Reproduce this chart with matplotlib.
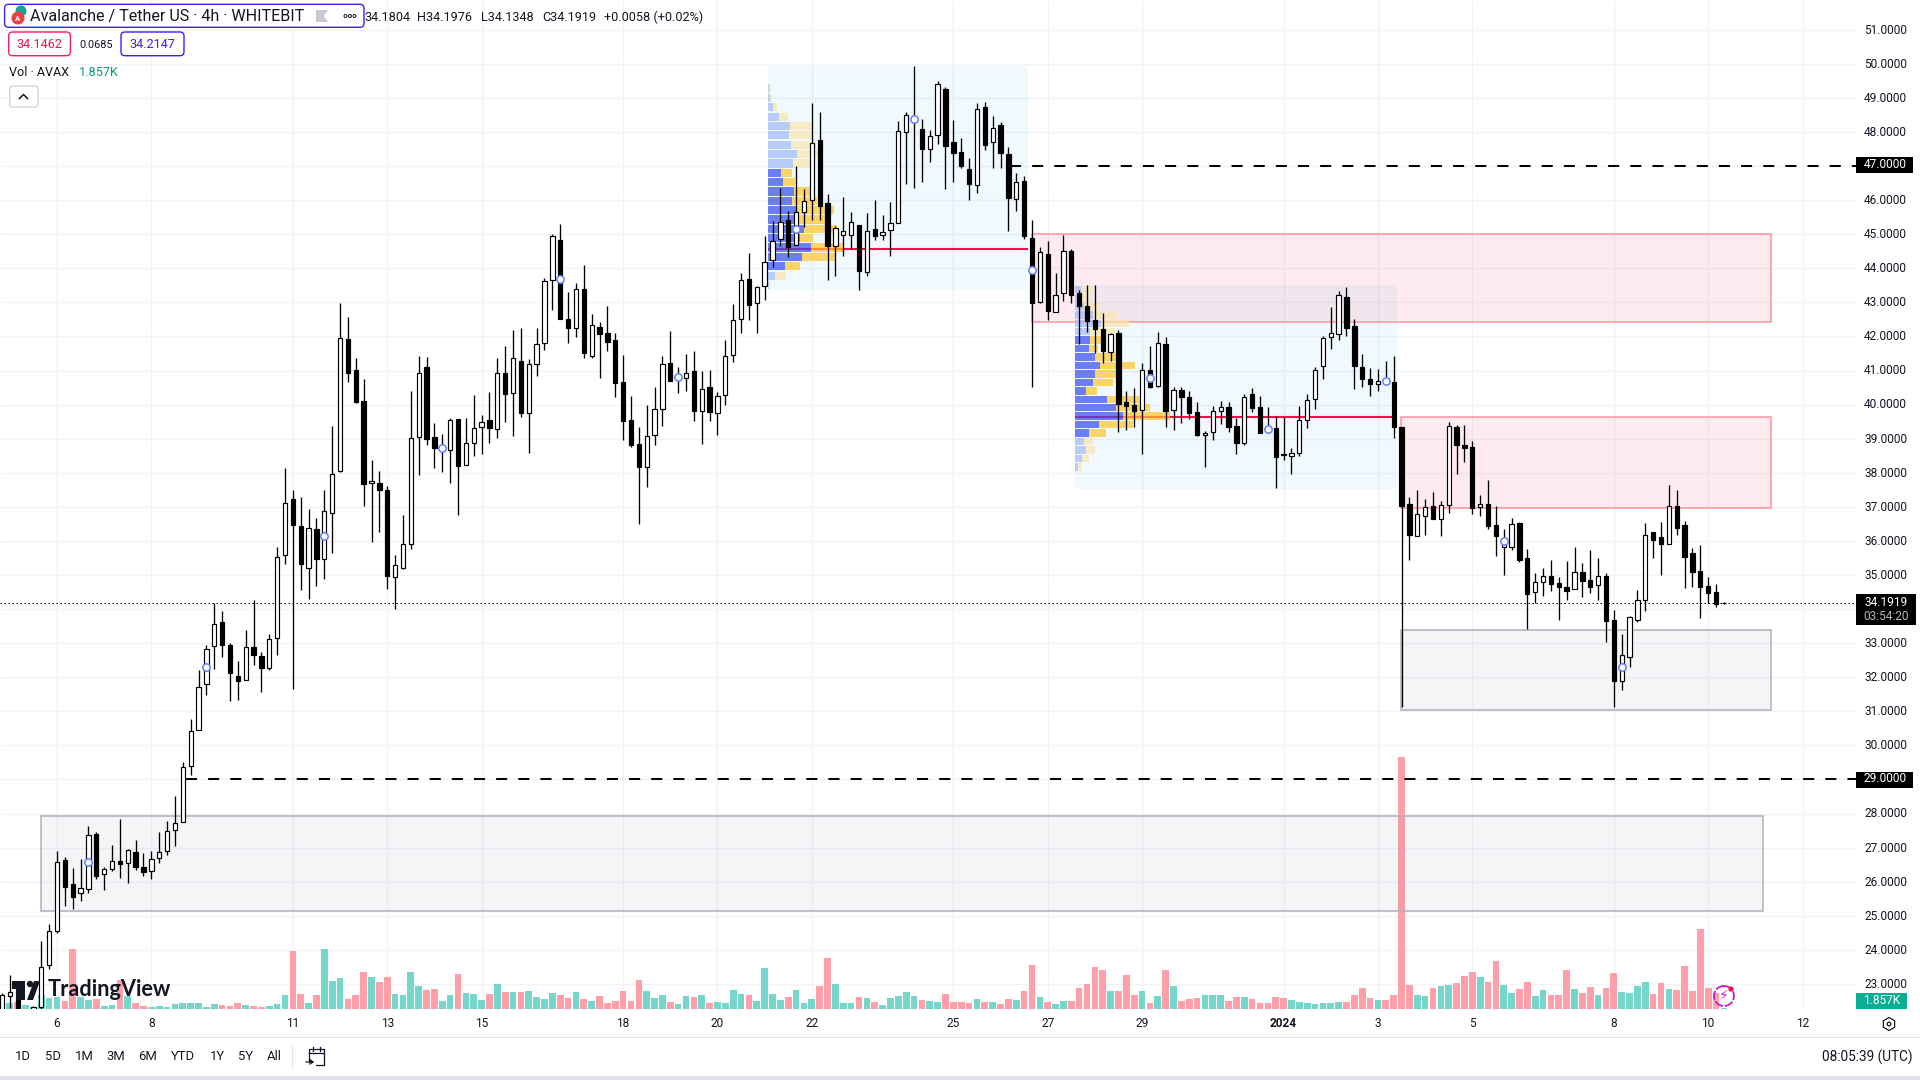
import matplotlib
matplotlib.use("Agg")
import matplotlib.pyplot as plt
import matplotlib.patches as mpatches
from matplotlib.transforms import ScaledTranslation
import numpy as np

plt.rcParams['font.family'] = ['Roboto', 'DejaVu Sans']

# candles, 4h bars, index 0 = 6 Dec 00:00, first bar is index -7
opens = [22.23,22.65,22.77,21.9,22.1,22.33,23.57,24.56,26.63,25.92,
25.66,25.80,27.40,26.24,26.36,26.62,26.54,26.86,26.42,26.30,
26.71,26.89,27.53,27.74,29.40,30.44,31.79,32.91,33.61,32.96,
32.05,31.91,32.88,32.61,32.26,33.14,35.58,37.22,36.43,35.20,
36.34,35.46,36.81,38.06,41.92,41.01,40.10,37.69,37.69,37.49,
34.93,35.20,35.90,39.04,41.10,39.04,38.65,38.66,39.57,38.22,
38.86,39.33,39.54,39.28,40.92,40.33,41.27,39.75,41.18,41.80,
43.65,44.82,42.50,42.24,43.39,41.44,42.27,42.09,41.89,40.66,
39.54,38.84,38.16,39.10,39.86,41.21,40.72,40.77,40.98,39.80,
40.51,39.75,40.27,41.45,42.50,43.68,42.97,43.47,44.23,44.85,
45.41,44.68,45.65,46.00,47.77,45.91,44.64,44.99,44.97,45.26,
43.90,45.15,44.97,45.12,45.32,47.99,48.28,48.08,47.49,47.91,
49.26,47.70,47.41,46.91,46.44,48.73,47.70,48.20,47.35,46.03,
46.56,44.88,43.00,44.41,42.73,43.27,44.50,43.27,42.89,42.48,
42.21,41.54,42.09,40.08,39.98,39.83,41.02,40.54,41.77,39.83,
40.42,40.22,39.77,39.10,39.19,39.80,39.92,39.36,38.87,40.30,
39.92,39.33,39.31,38.55,38.50,38.57,39.54,40.16,41.13,41.98,
42.06,43.15,42.30,41.10,40.74,40.60,40.72,40.66,39.34,37.07,
36.15,36.74,37.02,36.63,37.04,39.33,38.81,38.75,36.99,37.07,
36.46,35.81,35.81,36.53,35.49,34.49,34.78,34.96,34.76,34.64,
34.58,35.08,34.84,34.70,34.96,33.67,31.90,32.58,33.67,34.26,
36.25,36.11,35.90,37.02,36.46,35.64,35.11,34.67,34.49,34.1804]

highs = [22.74,23.26,22.85,22.15,22.36,24.26,24.75,26.90,26.72,26.39,
26.68,27.63,27.45,26.42,27.07,27.84,26.95,27.22,26.83,26.90,
27.45,27.77,28.51,29.50,30.76,32.21,32.94,34.18,33.94,33.00,
32.48,33.39,34.27,32.73,33.27,35.83,38.13,37.50,37.28,36.93,
36.66,37.50,39.37,42.98,42.57,41.36,40.74,38.37,38.04,37.60,
35.59,36.76,40.39,41.42,41.39,39.45,39.14,39.61,39.57,39.61,
40.27,39.69,40.36,41.36,41.72,42.18,42.24,41.33,42.24,43.71,
45.00,45.29,43.30,43.56,44.09,42.65,42.42,42.89,42.09,41.45,
40.24,39.33,39.98,40.51,41.42,42.15,41.10,41.48,41.57,40.98,
41.01,40.36,41.89,42.95,43.86,44.44,43.47,44.94,45.38,46.35,
45.68,46.99,46.32,48.85,48.59,46.17,45.25,46.10,45.65,45.26,
45.62,46.01,45.57,45.94,48.33,48.59,49.94,48.39,48.06,49.49,
49.32,48.36,47.82,47.23,48.85,48.88,48.46,48.29,47.55,46.79,
46.70,45.42,44.62,44.79,43.86,44.98,44.56,43.37,43.50,43.50,
42.68,42.09,42.18,40.39,40.48,41.21,41.71,42.12,41.98,40.51,
40.51,40.39,40.07,39.22,39.95,40.10,40.07,39.60,40.30,40.48,
40.24,39.92,39.66,39.63,38.72,39.95,40.30,41.10,42.01,42.86,
43.34,43.44,42.50,41.48,41.06,41.04,41.27,41.42,39.34,37.28,
37.49,37.22,37.43,37.16,39.48,39.39,39.39,38.92,37.34,37.78,
37.02,36.34,36.66,36.55,35.75,35.05,35.20,35.43,34.93,35.41,
35.81,35.34,35.72,35.49,35.05,33.96,33.26,33.79,34.55,36.52,
36.25,36.55,37.63,37.49,36.58,35.78,35.87,34.93,34.73,34.1976]

lows = [22.1,22.3,22.1,21.8,22.0,22.26,23.44,24.50,25.28,25.20,
25.44,25.68,26.08,25.75,26.32,26.12,25.97,26.34,26.17,26.08,
26.56,26.79,27.05,27.74,29.14,30.44,31.48,32.25,32.60,31.31,
31.33,31.91,32.37,31.57,32.22,32.65,35.32,31.65,34.57,34.30,
34.69,34.88,35.66,38.03,40.65,40.06,37.01,35.98,36.27,34.59,
33.99,35.18,35.76,37.92,38.80,38.15,38.02,37.71,36.77,38.22,
38.50,38.56,38.88,39.02,39.50,39.09,39.65,38.59,40.85,41.59,
42.78,42.52,41.82,41.97,41.38,41.38,40.79,41.56,40.23,38.97,
38.77,36.51,37.59,38.80,39.38,40.68,40.35,40.41,39.51,38.83,
39.53,39.12,40.00,41.26,42.11,42.47,42.11,43.08,44.05,44.64,
44.34,44.68,45.22,45.42,45.42,43.66,43.78,44.37,44.58,43.35,
43.76,44.83,44.83,44.36,45.32,46.48,46.37,46.54,47.12,47.65,
46.34,46.54,46.94,45.99,46.22,47.46,46.93,46.95,45.08,45.67,
44.87,40.53,42.97,42.49,42.73,43.04,42.98,41.78,42.13,41.51,
41.21,41.28,39.21,39.26,39.35,38.56,40.50,40.53,39.33,39.24,
39.45,39.59,39.09,38.18,38.97,39.44,39.19,38.56,38.80,39.79,
39.18,39.16,37.54,38.36,37.97,38.48,39.32,39.88,40.76,41.64,
41.91,42.00,40.47,40.53,40.26,40.41,40.63,39.03,31.13,35.45,
36.13,36.18,36.65,36.13,36.83,37.97,38.33,36.80,36.74,36.36,
35.57,35.01,35.74,35.39,33.41,34.17,34.39,34.54,33.69,34.28,
34.58,34.36,34.48,34.28,33.04,31.13,31.63,32.31,33.61,33.95,
35.51,35.01,35.90,36.18,34.63,34.66,33.75,34.19,34.07,34.1348]

closes = [22.67,22.75,22.2,22.1,22.33,23.50,24.56,26.59,25.85,25.56,
25.83,27.36,26.17,26.36,26.60,26.53,26.92,26.44,26.28,26.67,
26.88,27.50,27.73,29.37,30.43,31.72,32.84,33.57,32.95,32.13,
31.90,32.90,32.66,32.28,33.11,35.54,37.10,36.48,35.33,36.37,
35.48,36.87,37.95,41.94,40.94,40.09,37.68,37.75,37.50,34.98,
35.28,35.90,39.01,40.92,39.00,38.74,38.79,39.56,38.21,38.88,
39.32,39.50,39.30,40.92,40.32,41.36,39.74,41.18,41.79,43.62,
44.94,42.52,42.26,43.39,41.50,42.33,42.08,41.85,40.62,39.53,
38.80,38.18,39.07,39.86,41.18,40.68,40.87,40.94,39.82,40.45,
39.77,40.24,41.44,42.48,43.67,42.91,43.44,44.17,44.81,45.37,
44.61,45.65,45.97,47.67,45.84,44.64,45.18,45.09,45.37,43.93,
45.09,44.96,45.06,45.32,48.02,48.49,48.45,47.51,47.88,49.40,
47.60,47.38,46.99,46.46,48.67,47.63,48.13,47.37,46.06,46.53,
44.96,42.99,44.47,42.76,43.23,44.50,43.23,42.88,42.44,42.23,
41.56,42.06,40.03,39.97,39.82,41.01,40.53,41.80,39.82,40.42,
40.21,39.74,39.12,39.16,39.80,39.92,39.35,38.86,40.22,39.91,
39.18,39.22,38.47,38.52,38.57,39.54,40.13,41.01,41.95,42.09,
43.21,42.26,41.13,40.76,40.59,40.68,40.65,39.35,37.03,36.18,
36.78,36.99,36.65,37.05,39.36,38.80,38.74,36.98,37.07,36.45,
36.13,35.93,36.49,35.45,34.45,34.78,34.96,34.75,34.66,34.54,
35.08,34.83,34.66,34.96,33.66,31.90,32.66,33.76,34.26,36.16,
36.04,35.92,37.02,36.39,35.54,35.10,34.66,34.48,34.16,34.1919]

# volume in K
volumes = [5,8.5,10,5.5,3,21,16.5,18,12,89.5,
18,13.5,15,4.5,6,43.5,19.5,9,4.5,3,
4.5,3,7.5,9,9,9,3,7.5,6,4.5,
9,6,4.5,3,4.5,7.5,21,87,22.5,9,
21,90,42,46.5,15,21,55.5,48,40.5,48,
22.5,21,55.5,34.5,28.5,30,12,21,52.5,24,
22.5,13.5,22.5,37.5,25.5,25.5,25.5,27,18,15,
24,21,16.5,25.5,15,12,19.5,9,12,27,
12,43.5,27,16.5,21,10.5,7.5,19.5,18,21,
9,10.5,9,28.5,22.5,21,12,61.5,22.5,13.5,
18,28.5,9,15,34.5,76.5,37.5,9,9,18,
16.5,10.5,6,16.5,19.5,25.5,19.5,13.5,12,10.5,
22.5,10.5,10.5,9,15,10.5,10.5,7.5,15,13.5,
27,66,18,10.5,7.5,12,12,31.5,37.5,63,
58.5,27,27,51,21,27,9,19.5,58.5,34.5,
12,15,16.5,21,21,21,12,18,18,15,
9,9,18,16.5,13.5,10.5,9,7.5,9,9,
10.5,10.5,21,31.5,16.5,13.5,13.5,21,378,36,
21,19.5,31.5,34.5,36,39,49.5,55.5,48,40.5,
72,36,24,30,40.5,19.5,28.5,21,21,58.5,
30,24,33,21,31.5,54,25.5,24,34.5,40.5,
22.5,39,30,28.5,64.5,27,120,31,23.5,1.857]

tick_pos = [0,12,30,42,54,72,84,96,114,126,138,156,168,180,198,210,222]
tick_labels = ['6','8','11','13','15','18','20','22','25','27','29','2024','3','5','8','10','12']
price_ticks = list(range(23, 52))
covered_ticks = [29, 34, 47]

marker_idx = [4,19,34,49,64,79,94,109,124,139,154,169,184,199]
marker_price = [26.59,32.31,36.15,38.72,43.68,40.80,45.15,48.38,43.94,40.77,39.28,40.68,35.99,32.29]

# volume profile rows, top row first (lengths in zoomed pixels)
vp1_up = [4,6,15,33,66,63,69,87,75,39,45,78,72,84,81,108,96,129,102,51,21,3]
vp1_down = [5,6,12,27,70,73,77,64,61,33,36,48,75,114,90,100,40,97,100,45,33,3]
vp1_light = [0,1,2,3,4,5,6,7,8,20,21]
vp2_up = [18,18,27,54,78,45,45,42,60,75,60,54,33,96,123,144,72,42,27,33,21,9]
vp2_down = [33,27,48,72,84,75,33,27,63,105,63,60,33,99,102,141,102,51,27,27,21,12]
vp2_light = [0,1,2,3,4,5,18,19,20,21]

idx = np.arange(-7, -7 + len(opens))
o = np.array(opens); h = np.array(highs); l = np.array(lows); c = np.array(closes)
up = c >= o

fig = plt.figure(figsize=(19.2, 10.8), dpi=100, facecolor='white')
rect = [0, 71/1080, 1856/1920, 1009/1080]
xlim = (-7.249, 228.8)
ylim = (22.265, 51.872)

# grid axes at the back, then volume, then price
ax_grid = fig.add_axes(rect, zorder=0)
ax_vol = fig.add_axes(rect, zorder=1)
ax = fig.add_axes(rect, zorder=2)
for a in (ax_grid, ax_vol, ax):
    a.set_xlim(xlim)
    a.patch.set_visible(False)
    for s in a.spines.values():
        s.set_visible(False)
ax_grid.patch.set_visible(True)
ax_grid.set_ylim(ylim)
ax_grid.set_xticks([]); ax_grid.set_yticks([])
ax_grid.hlines(price_ticks, xlim[0], xlim[1], color='#f1f2f5', lw=1.0)
ax_grid.vlines(tick_pos, ylim[0], ylim[1], color='#f1f2f5', lw=1.0)

ax_vol.set_ylim(0, 1513.5)
ax_vol.set_xticks([]); ax_vol.set_yticks([])
ax_vol.bar(idx, volumes, width=0.85, color=['#75d7cc' if u else '#ff9fa9' for u in up], linewidth=0)

ax.set_ylim(ylim)
ax.yaxis.tick_right()
ax.set_yticks(price_ticks)
ax.set_yticklabels(['' if p in covered_ticks else '%.4f' % p for p in price_ticks], fontsize=8.6, color='#131722')
ax.set_xticks(tick_pos)
ax.set_xticklabels(tick_labels, fontsize=8.6, color='#131722')
ax.tick_params(length=0)
ax.tick_params(axis='y', pad=5.8)
ax.tick_params(axis='x', pad=5.7)
for t in ax.get_xticklabels():
    if t.get_text() == '2024':
        t.set_fontweight('bold')
for t in ax.get_yticklabels():
    t.set_transform(t.get_transform() + ScaledTranslation(0, 0.8/72, fig.dpi_scale_trans))


def zone(x0, x1, y0, y1, face, edge, alpha):
    ax.add_patch(mpatches.Rectangle((x0, y0), x1 - x0, y1 - y0, facecolor=face, alpha=alpha, lw=0, zorder=1))
    ax.add_patch(mpatches.Rectangle((x0, y0), x1 - x0, y1 - y0, fill=False, edgecolor=edge, lw=1.15, zorder=1.1))


def profile(x0, x1, box_top, box_bot, row_top, pitch, ups, downs, light, poc):
    ax.add_patch(mpatches.Rectangle((x0, box_bot), x1 - x0, box_top - box_bot, facecolor='#26a6f0', alpha=0.065, lw=0, zorder=1))
    ax.plot([x0, x1], [poc, poc], color='#ff0a4b', lw=1.5, zorder=1.5, solid_capstyle='butt')
    for k in range(len(ups)):
        y = row_top - pitch * (k + 0.5)
        b = ups[k] / 23.6
        d = downs[k] / 23.6
        pale = k in light
        ax.barh(y, b, height=pitch * 0.88, left=x0, color='#a1baf8' if pale else '#324af4', alpha=0.7, lw=0, zorder=2)
        ax.barh(y, d, height=pitch * 0.88, left=x0 + b, color='#f9e6ab' if pale else '#ffc525', alpha=0.7, lw=0, zorder=2)


profile(90.4, 123.45, 49.94, 43.35, 49.41, 0.2745, vp1_up, vp1_down, vp1_light, 44.58)
profile(129.47, 170.4, 43.51, 37.53, 43.50, 0.2477, vp2_up, vp2_down, vp2_light, 39.64)

zone(124, 218, 42.43, 45.0, '#f7325a', '#fe96a6', 0.095)
zone(170.9, 218, 36.97, 39.65, '#f7325a', '#fe96a6', 0.095)
zone(170.9, 218, 31.04, 33.39, '#6a6a9a', '#b2b2be', 0.065)
zone(-2.07, 217, 25.15, 27.94, '#6a6a9a', '#b2b2be', 0.065)

# key levels and last price
ax.plot([121.2, xlim[1]], [47, 47], color='black', lw=1.45, ls=(0, (5.5, 5.5)), zorder=3)
ax.plot([16.4, xlim[1]], [29, 29], color='black', lw=1.45, ls=(0, (5.5, 5.5)), zorder=3)
ax.plot(xlim, [closes[-1], closes[-1]], color='black', lw=0.72, ls=(0, (1.5, 2.5)), zorder=3)

ax.vlines(idx, l, h, color='black', lw=0.95, zorder=4)
ax.bar(idx, np.abs(c - o), bottom=np.minimum(o, c), width=0.55,
       color=['white' if u else 'black' for u in up], edgecolor='black', linewidth=0.85, zorder=5)
ax.plot(marker_idx, marker_price, ls='', marker='o', ms=5.3, mfc='white', mec='#6a84f8', mew=1.15, zorder=6)

# interface parts in pixel coordinates
ui = fig.add_axes([0, 0, 1, 1], zorder=5)
ui.set_xlim(0, 1920)
ui.set_ylim(1080, 0)
ui.axis('off')


def rbox(x0, y0, x1, y1, edge, face='white', lw=1.0, r=3):
    ui.add_patch(mpatches.FancyBboxPatch((x0, y0), x1 - x0, y1 - y0, boxstyle='round,pad=0,rounding_size=%g' % r,
                                         edgecolor=edge, facecolor=face, lw=lw))


ui.add_patch(mpatches.Rectangle((0, 1037), 1920, 1, color='#e0e3eb', lw=0))
ui.add_patch(mpatches.Rectangle((0, 1076), 1920, 4, color='#e0e3eb', lw=0))

# price scale labels
ui.add_patch(mpatches.Rectangle((1856, 594), 60, 31, color='black', lw=0))
ui.text(1886, 602, '34.1919', color='white', fontsize=8.6, ha='center', va='center')
ui.text(1886, 617, '03:54:20', color='#b2b5be', fontsize=8.6, ha='center', va='center')
for lev, py in (('47.0000', 165.4), ('29.0000', 779.5)):
    ui.add_patch(mpatches.Rectangle((1856, py - 8), 57, 16, color='black', lw=0))
    ui.text(1885.5, py - 0.6, lev, color='white', fontsize=8.6, ha='center', va='center')
ui.add_patch(mpatches.Rectangle((1856, 993), 51, 16, color='#0aad96', lw=0))
ui.text(1881.5, 1001, '1.857K', color='white', fontsize=8.6, ha='center', va='center')
ui.add_patch(mpatches.RegularPolygon((1889, 1024), 6, radius=6.5, fill=False, edgecolor='#131722', lw=0.9))
ui.add_patch(mpatches.Circle((1889, 1024), 1.8, fill=False, edgecolor='#131722', lw=0.9))

# legend block
rbox(4.6, 4.3, 364, 27.3, '#3a1fff', lw=1.0, r=4)
ui.add_patch(mpatches.Circle((21, 11), 5.5, color='#12a594', lw=0))
ui.add_patch(mpatches.Circle((18, 18), 6.5, color='#e84142', lw=0))
ui.text(18, 18.5, 'A', color='white', fontsize=5.5, ha='center', va='center', fontweight='bold')
ui.text(30.5, 16.8, 'Avalanche / Tether US · 4h · WHITEBIT', color='#131722', fontsize=11.6, ha='left', va='center')
ui.add_patch(mpatches.Polygon([(316, 10), (328, 10), (324, 16), (328, 22), (316, 22)], color='#c9c9d4', lw=0))
for dx in (345.5, 350, 354.5):
    ui.add_patch(mpatches.Circle((dx, 16), 1.5, fill=False, edgecolor='#131722', lw=0.7))
for xt, s in ((364.5, '34.1804'), (417.5, 'H34.1976'), (481.5, 'L34.1348'), (542.5, 'C34.1919'), (604.5, '+0.0058 (+0.02%)')):
    ui.text(xt, 17.2, s, color='#131722', fontsize=9.1, ha='left', va='center')
rbox(8.7, 32, 70.4, 55.7, '#ff1a55', r=4)
ui.text(39.5, 44.5, '34.1462', color='#f7104a', fontsize=9.1, ha='center', va='center')
ui.text(96, 44.5, '0.0685', color='#131722', fontsize=7.8, ha='center', va='center')
rbox(121, 32, 184, 55.7, '#3a1fff', r=4)
ui.text(152.5, 44.5, '34.2147', color='#3a1fff', fontsize=9.1, ha='center', va='center')
ui.text(9, 73, 'Vol · AVAX', color='#131722', fontsize=9.1, ha='left', va='center')
ui.text(79, 73, '1.857K', color='#089981', fontsize=9.1, ha='left', va='center')
rbox(9.7, 86, 38, 107, '#d1d4dc', r=3)
ui.plot([19.5, 23.5, 27.5], [98.5, 94.5, 98.5], color='#131722', lw=1.1)

# logo
ui.add_patch(mpatches.Polygon([(12, 981), (25, 981), (25, 1000), (16, 1000), (16, 989), (12, 989)], color='#131722', lw=0))
ui.add_patch(mpatches.Circle((30, 984), 3.2, color='#131722', lw=0))
ui.add_patch(mpatches.Polygon([(33, 1000), (27, 1000), (34, 981), (40, 981)], color='#131722', lw=0))
ui.text(48, 989, 'TradingView', color='#131722', fontsize=15.7, fontweight='bold', family='Lato', ha='left', va='center')

# bolt
ui.add_patch(mpatches.Circle((1724, 996), 10, fill=False, edgecolor='#c918c9', lw=1.3, ls=(0, (5, 1))))
ui.text(1724, 996.5, '\u26a1', color='#c918c9', fontsize=10, family='DejaVu Sans', fontweight='bold', ha='center', va='center')
ui.add_patch(mpatches.Circle((1731, 989), 2.6, color='#f7104a', lw=0))

# bottom toolbar
for xt, s in ((23, '1D'), (53, '5D'), (84, '1M'), (116, '3M'), (148, '6M'), (183, 'YTD'), (217, '1Y'), (245.5, '5Y'), (274, 'All')):
    ui.text(xt, 1057, s, color='#131722', fontsize=9.4, ha='center', va='center')
ui.plot([292, 292], [1046, 1067], color='#e0e3eb', lw=0.8)
ui.plot([309, 309, 324, 324, 316], [1062, 1049, 1049, 1065, 1065], color='#131722', lw=0.9)
ui.plot([309, 324], [1053, 1053], color='#131722', lw=0.9)
ui.plot([313, 313], [1047, 1051], color='#131722', lw=0.9)
ui.plot([320, 320], [1047, 1051], color='#131722', lw=0.9)
ui.plot([306, 313, 310, 313, 310], [1062, 1062, 1060, 1062, 1064], color='#131722', lw=0.9)
ui.text(1913, 1057, '08:05:39 (UTC)', color='#131722', fontsize=9.8, ha='right', va='center')

fig.savefig('out.png', dpi=100)
